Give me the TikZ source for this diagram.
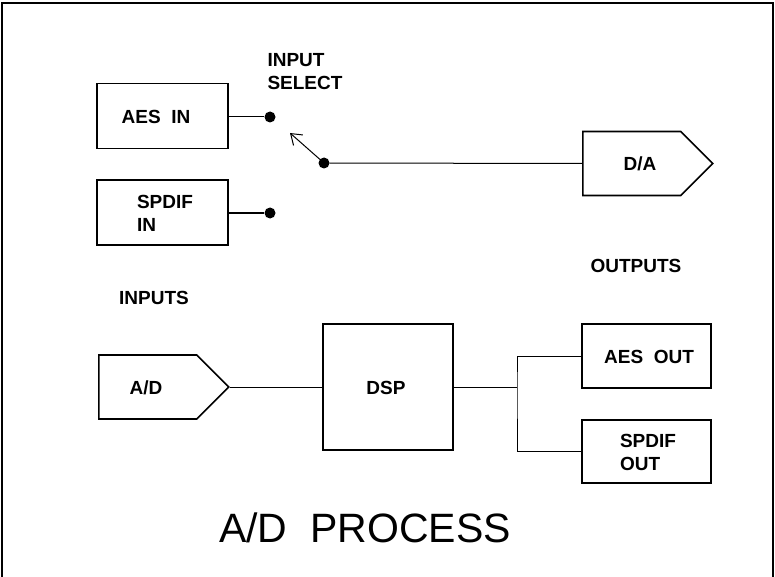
\documentclass[tikz,border=0pt]{standalone}
\usepackage{fontspec}
\setmainfont{Liberation Sans}
\usetikzlibrary{shapes.symbols}
\usetikzlibrary{arrows.meta}

\tikzset{
	blockbox/.style={draw, line width=1.6pt, minimum width=131pt, minimum height=65pt, inner sep=0pt},
	convbox/.style={draw, line width=1.6pt, shape=signal, signal to=east, signal pointer angle=90,
		minimum width=130pt, minimum height=64pt, inner sep=0pt, anchor=west},
	labeltext/.style={font=\fontsize{19}{23}\selectfont\bfseries, align=left},
	jackdot/.style={circle, fill, inner sep=0pt, minimum size=11pt},
	wire/.style={line width=1pt}
}

\begin{document}
\begin{tikzpicture}[x=1pt, y=-1pt]

						\useasboundingbox (0, 0) rectangle (775, 577);
						\draw[line width=1.2pt] (2, 580)--(2, 3)--(773, 3)--(773, 580);

						% inputs
						\node[blockbox] (aesin) at (162.5, 116) {};
						\node[labeltext] at (156, 117) {AES\ \ IN};
						\node[blockbox] (spdifin) at (162.5, 212.5) {};
						\node[labeltext] at (165, 213) {SPDIF\\IN};
						\node[jackdot] (dotaes) at (270, 117) {};
						\node[jackdot] (dotspdif) at (270, 213) {};
						\draw[wire] (aesin.east |- dotaes)--(dotaes);
						\draw[wire] (spdifin.east |- dotspdif)--(dotspdif);

						% selector
						\node[labeltext, anchor=west] (selname) at (264, 72) {INPUT\\SELECT};
						\node[jackdot] (pivot) at (324, 163) {};
						\coordinate (swtip) at (290, 133);
						\draw[wire, -{Straight Barb[length=10pt, width=14pt]}] (pivot.center)--(swtip);

						% D/A converter
						\node[convbox] (da) at (582, 163.5) {};
						\node[labeltext] at (640, 164) {D/A};
						\draw[wire] (pivot)--(da.west);

						\node[labeltext] (outname) at (636, 266) {OUTPUTS};
						\node[labeltext] (inname) at (154, 298) {INPUTS};

						% A/D and processing
						\node[convbox] (ad) at (98, 387) {};
						\node[labeltext] at (146, 388) {A/D};
						\node[draw, line width=1.6pt, minimum width=130pt, minimum height=126pt, inner sep=0pt] (dsp) at (388, 387) {};
						\node[labeltext] at (386, 388) {DSP};
						\draw[wire] (ad.east)--(dsp.west);

						% outputs
						\node[blockbox, minimum width=129pt, minimum height=64pt] (aesout) at (646.5, 356) {};
						\node[labeltext] at (649, 357) {AES\ \ OUT};
						\node[blockbox, minimum width=129pt, minimum height=63pt] (spdifout) at (646.5, 451.5) {};
						\node[labeltext] at (648, 452) {SPDIF\\OUT};
						\coordinate (split) at (517, 387);
						\draw[wire] (dsp.east)--(split);
						\draw[wire] (aesout.west)-|(split)|-(spdifout.west);

						\node[font=\fontsize{41}{48}\selectfont] (title) at (365, 528) {A/D\ \ PROCESS};
					\end{tikzpicture}
\end{document}
